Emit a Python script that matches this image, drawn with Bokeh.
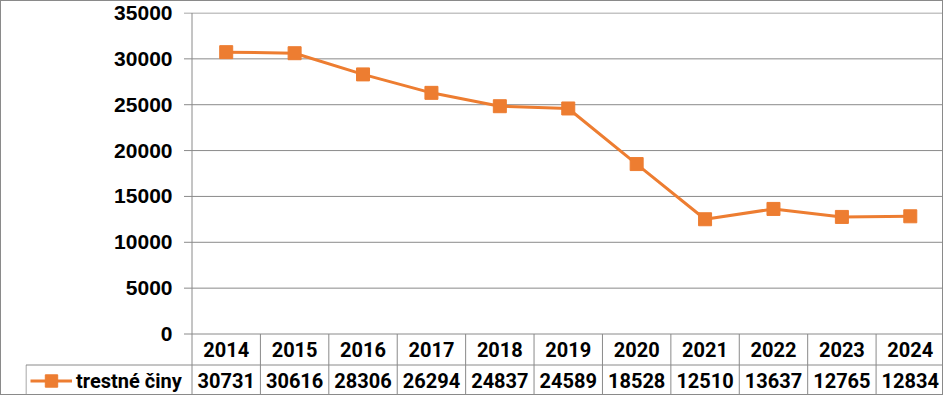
from bokeh.plotting import figure
from bokeh.models import Range1d, FixedTicker, Legend, LegendItem
from bokeh.core.properties import value
from bokeh.embed import file_html
from bokeh.resources import INLINE

# ---- data ----
years = ["2014", "2015", "2016", "2017", "2018", "2019", "2020", "2021", "2022", "2023", "2024"]
counts = [30731, 30616, 28306, 26294, 24837, 24589, 18528, 12510, 13637, 12765, 12834]
series_name = "trestné činy"
y_ticks = [0, 5000, 10000, 15000, 20000, 25000, 30000, 35000]

# ---- style / layout (canvas pixels) ----
ORANGE = "#ED7D31"
GRID = "#8a8a8a"
TABLE_FONT = value("Roboto")
W, H = 943, 395            # figure size (+1px CSS border on every side)
FRAME_LEFT = 24            # frame starts at the table's row-header cell
TOP = 11
AXIS_X = 190.5             # canvas x of the value axis line
ZERO_Y = 332.5             # canvas y of value 0
MAX_Y = 11.5               # canvas y of the top tick
ROW_SEP = 363.5            # canvas y of the line between the two table rows
LABEL_RIGHT = 171          # canvas x of the right edge of the tick labels
TICK_OUT = 8
n = len(years)
unit_px = (W - AXIS_X) / n
x_start = -(AXIS_X - FRAME_LEFT) / unit_px
x_end = (W - AXIS_X) / unit_px
y_top_tick = y_ticks[-1]
px_per_val = (ZERO_Y - MAX_Y) / y_top_tick


def y_at(canvas_y):
    return (ZERO_Y - canvas_y) / px_per_val


y_end = y_at(TOP)
y_start = y_at(H)
y_sep = y_at(ROW_SEP)
cell_left = x_start + 0.5 / unit_px
tick_x0 = -TICK_OUT / unit_px
xc = [i + 0.5 for i in range(n)]

p = figure(width=W, height=H, x_range=Range1d(x_start, x_end), y_range=Range1d(y_start, y_end),
           output_backend="svg", toolbar_location=None, x_axis_location=None,
           min_border_left=FRAME_LEFT, min_border_right=0, min_border_top=TOP, min_border_bottom=0,
           styles={"border": "1px solid #8a8a8a"})
p.outline_line_color = None
p.background_fill_color = "white"
p.border_fill_color = "white"
p.grid.visible = False

# value axis: real axis for the tick labels, drawn into place with a negative standoff
ax = p.yaxis[0]
ax.ticker = FixedTicker(ticks=y_ticks)
ax.axis_line_color = None
ax.major_tick_line_color = None
ax.minor_tick_line_color = None
ax.major_tick_out = 0
ax.major_tick_in = 0
ax.minor_tick_out = 0
ax.minor_tick_in = 0
ax.major_label_standoff = int(round(FRAME_LEFT - LABEL_RIGHT))
ax.major_label_text_font = "Liberation Sans"
ax.major_label_text_font_style = "bold"
ax.major_label_text_font_size = "21px"
ax.major_label_text_color = "black"

# gridlines (with the outside tick marks) and the axis line
p.segment(x0=[tick_x0] * len(y_ticks), y0=y_ticks, x1=[x_end] * len(y_ticks), y1=y_ticks,
          line_color=GRID, line_width=1)
p.segment(x0=[0], y0=[y_top_tick], x1=[0], y1=[y_start], line_color=GRID, line_width=1)

# data-table cell separators
sep_x = list(range(1, n))
p.segment(x0=sep_x, y0=[0] * len(sep_x), x1=sep_x, y1=[y_start] * len(sep_x),
          line_color=GRID, line_width=1)
p.segment(x0=[cell_left], y0=[y_sep], x1=[x_end], y1=[y_sep], line_color=GRID, line_width=1)
p.segment(x0=[cell_left], y0=[y_sep], x1=[cell_left], y1=[y_start], line_color=GRID, line_width=1)

# table texts
p.text(x=xc, y=[y_at(347.8)] * n, text=years, text_align="center", text_baseline="middle",
       text_font=TABLE_FONT, text_font_style="bold", text_font_size="20px", text_color="black")
p.text(x=xc, y=[y_at(378.5)] * n, text=[str(c) for c in counts], text_align="center",
       text_baseline="middle", text_font=TABLE_FONT, text_font_style="bold",
       text_font_size="20px", text_color="black")

# the series
r_l = p.line(x=xc, y=counts, line_color=ORANGE, line_width=3)
r_m = p.scatter(x=xc, y=counts, marker="square", size=13, fill_color=ORANGE, line_color=ORANGE)

# legend key inside the row-header cell
ROW_H = int(H - ROW_SEP)
legend = Legend(items=[LegendItem(label=series_name, renderers=[r_l, r_m])],
                location=(5, 0), margin=0, padding=0, spacing=0,
                glyph_width=42, glyph_height=ROW_H, label_standoff=4, label_height=ROW_H,
                border_line_color=None, background_fill_alpha=0,
                label_text_font="Roboto", label_text_font_style="bold",
                label_text_font_size="20px", label_text_color="black")
p.add_layout(legend)

open("out.html", "w").write(file_html(p, INLINE))
